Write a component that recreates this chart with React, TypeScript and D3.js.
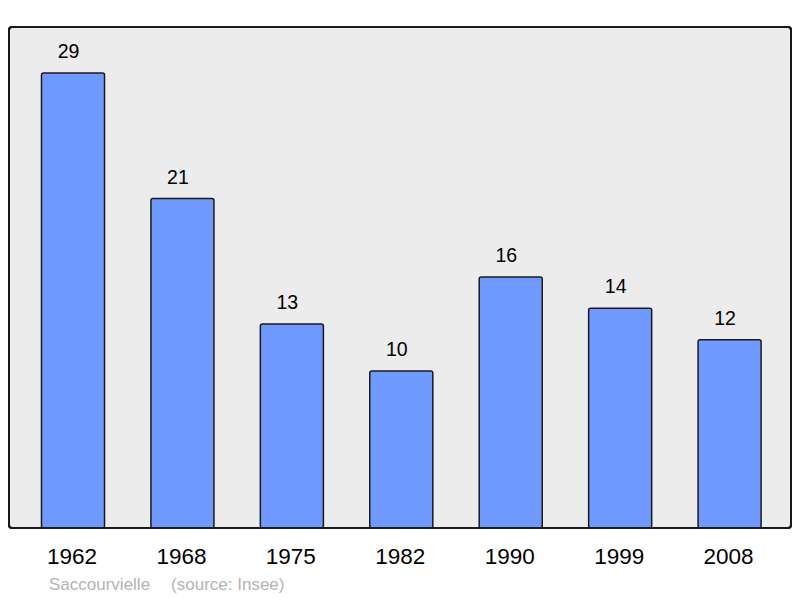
import React from 'react';
import {scaleBand, scaleLinear} from 'd3';

const years = ['1962', '1968', '1975', '1982', '1990', '1999', '2008'];
const population = [29, 21, 13, 10, 16, 14, 12];
const commune = 'Saccourvielle';
const source = '(source: Insee)';

const width = 800;
const height = 598;
const panel = {left: 9, top: 27, right: 791, bottom: 528};
const font = '"Liberation Sans", Arial, sans-serif';

export default function App() {
  const xScale = scaleBand<string>()
    .domain(years)
    .range([18.3, 784.3])
    .paddingInner(0.424)
    .paddingOuter(0.212);

  const yScale = scaleLinear()
    .domain([0, 29])
    .range([panel.bottom, 73]);

  return (
    <svg
      width={width}
      height={height}
      style={{position: 'absolute', left: 0, top: 0, fontFamily: font}}
    >
      <rect x={0} y={0} width={width} height={height} fill="#ffffff" />
      <rect
        x={panel.left}
        y={panel.top}
        width={panel.right - panel.left}
        height={panel.bottom - panel.top}
        rx={3}
        fill="#ececec"
        stroke="#1a1a1a"
        strokeWidth={2}
      />
      {years.map((year, i) => {
        const x = xScale(year) ?? 0;
        const y = yScale(population[i]);
        const cx = x + xScale.bandwidth() / 2;
        return (
          <g key={year}>
            <rect
              x={x}
              y={y}
              width={xScale.bandwidth()}
              height={panel.bottom - y}
              rx={2}
              fill="#7099ff"
              stroke="#1a1a1a"
              strokeWidth={1.5}
            />
            <text
              x={cx - 4.5}
              y={y - 15}
              textAnchor="middle"
              fontSize={19.5}
              fill="#000"
            >{population[i]}</text>
            <text
              x={cx - 1}
              y={564}
              textAnchor="middle"
              fontSize={22.5}
              fill="#000"
            >{year}</text>
          </g>
        );
      })}
      <rect
        x={panel.left}
        y={panel.top}
        width={panel.right - panel.left}
        height={panel.bottom - panel.top}
        rx={3}
        fill="none"
        stroke="#1a1a1a"
        strokeWidth={2}
      />
      <text x={49} y={590} fontSize={17} fill="#b3b3b3">
        {commune}
        <tspan dx={21}>{source}</tspan>
      </text>
    </svg>
  );
}
